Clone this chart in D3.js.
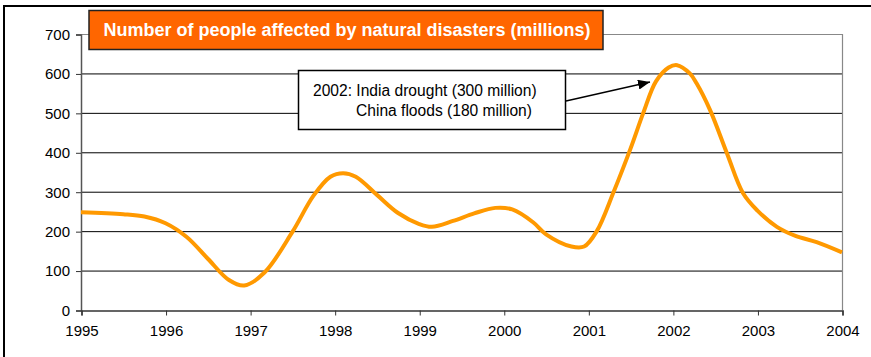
<!DOCTYPE html>
<html>
<head>
<meta charset="utf-8">
<script src="https://cdn.jsdelivr.net/npm/d3@7"></script>
<style>
  html, body { margin: 0; padding: 0; background: #fff; }
  svg { display: block; font-family: "Liberation Sans", Arial, sans-serif; }
</style>
</head>
<body>
<svg id="chart" width="871" height="357"></svg>
<script>
// Number of people affected by natural disasters, millions (smoothed series)
const years = [1995.0, 1995.5, 1995.75, 1996.0, 1996.25, 1996.5, 1996.75, 1996.93, 1997.17, 1997.5,
  1997.75, 1997.95, 1998.1, 1998.25, 1998.5, 1998.75, 1999.0, 1999.15, 1999.4, 1999.65,
  1999.9, 2000.1, 2000.35, 2000.5, 2000.8, 2000.95, 2001.1, 2001.3, 2001.5, 2001.65,
  2001.8, 2001.95, 2002.05, 2002.2, 2002.28, 2002.44, 2002.64, 2002.83, 2003.0, 2003.23,
  2003.45, 2003.7, 2004.0];
const affected = [248, 243, 237, 220, 185, 130, 76, 62, 95, 198,
  290, 338, 347, 338, 292, 246, 218, 211, 226, 245,
  259, 255, 222, 192, 161, 161, 200, 300, 410, 500,
  580, 615, 621, 600, 575, 507, 397, 296, 252, 211,
  188, 172, 146];

const yearTicks = [1995, 1996, 1997, 1998, 1999, 2000, 2001, 2002, 2003, 2004];
const valueTicks = [0, 100, 200, 300, 400, 500, 600, 700];
const gridValues = [100, 200, 300, 400, 500, 600];

const titleText = "Number of people affected by natural disasters (millions)";
const noteLines = ["2002: India drought (300 million)", "China floods (180 million)"];

const svg = d3.select("#chart");
const plot = { left: 81, right: 842, top: 34, bottom: 310 };

const x = d3.scaleLinear().domain([1995, 2004]).range([plot.left, plot.right]);
const y = d3.scaleLinear().domain([0, 700]).range([plot.bottom, plot.top]);

// outer frame
svg.append("path")
  .attr("d", "M4,357 L4,6 L871,6")
  .attr("fill", "none").attr("stroke", "#000").attr("stroke-width", 2);

// horizontal gridlines
svg.append("g").selectAll("line").data(gridValues).join("line")
  .attr("x1", plot.left).attr("x2", plot.right)
  .attr("y1", d => y(d) + 0.5).attr("y2", d => y(d) + 0.5)
  .attr("stroke", "#000").attr("stroke-width", 1);

// plot border: top and right
svg.append("path")
  .attr("d", `M${plot.left},${y(700) + 0.5} L${plot.right + 0.5},${y(700) + 0.5} L${plot.right + 0.5},${plot.bottom}`)
  .attr("fill", "none").attr("stroke", "#888").attr("stroke-width", 1.2);

// y axis
const yAxis = svg.append("g")
  .attr("transform", `translate(${plot.left},0.5)`)
  .call(d3.axisLeft(y).tickValues(valueTicks).tickSize(5).tickPadding(6).tickFormat(d3.format("d")));
yAxis.select(".domain").attr("stroke", "#555").attr("stroke-width", 1.5);
yAxis.selectAll(".tick line").attr("stroke", "#333");
yAxis.selectAll("text").attr("font-size", 15).attr("fill", "#000")
  .attr("font-family", "Liberation Sans, Arial, sans-serif");

// x axis
const xAxis = svg.append("g")
  .attr("transform", `translate(0.5,${plot.bottom + 0.5})`)
  .call(d3.axisBottom(x).tickValues(yearTicks).tickSize(5).tickPadding(10).tickFormat(d3.format("d")));
xAxis.select(".domain").attr("stroke", "#333").attr("stroke-width", 1.5);
xAxis.selectAll(".tick line").attr("stroke", "#333");
xAxis.selectAll("text").attr("font-size", 15).attr("fill", "#000")
  .attr("font-family", "Liberation Sans, Arial, sans-serif");

// series line
const line = d3.line()
  .x((d, i) => x(years[i]))
  .y(d => y(d))
  .curve(d3.curveCatmullRom.alpha(0.5));

svg.append("path")
  .datum(affected)
  .attr("d", line)
  .attr("fill", "none")
  .attr("stroke", "#FF9900")
  .attr("stroke-width", 4)
  .attr("stroke-linejoin", "round")
  .attr("stroke-linecap", "butt");

// title box
svg.append("rect")
  .attr("x", 89).attr("y", 10.5).attr("width", 514).attr("height", 39)
  .attr("fill", "#FF6600").attr("stroke", "#222").attr("stroke-width", 1.5);
svg.append("text")
  .attr("x", 347).attr("y", 36)
  .attr("text-anchor", "middle")
  .attr("font-size", 18).attr("font-weight", "bold").attr("fill", "#fff")
  .text(titleText);

// annotation box
svg.append("rect")
  .attr("x", 298.5).attr("y", 70.5).attr("width", 267).attr("height", 59)
  .attr("fill", "#fff").attr("stroke", "#000").attr("stroke-width", 1.5);
svg.append("text")
  .attr("x", 313).attr("y", 96)
  .attr("font-size", 15.6).attr("fill", "#000")
  .text(noteLines[0]);
svg.append("text")
  .attr("x", 356).attr("y", 115.5)
  .attr("font-size", 15.6).attr("fill", "#000")
  .text(noteLines[1]);

// arrow toward the 2002 peak
svg.append("defs").append("marker")
  .attr("id", "arrowhead")
  .attr("viewBox", "0 0 12 10")
  .attr("refX", 12).attr("refY", 5)
  .attr("markerWidth", 12).attr("markerHeight", 10)
  .attr("markerUnits", "userSpaceOnUse")
  .attr("orient", "auto")
  .append("path").attr("d", "M0,0 L12,5 L0,10 Z").attr("fill", "#000");

svg.append("line")
  .attr("x1", 566).attr("y1", 101)
  .attr("x2", 650).attr("y2", 82)
  .attr("stroke", "#000").attr("stroke-width", 1.3)
  .attr("marker-end", "url(#arrowhead)");
</script>
</body>
</html>
